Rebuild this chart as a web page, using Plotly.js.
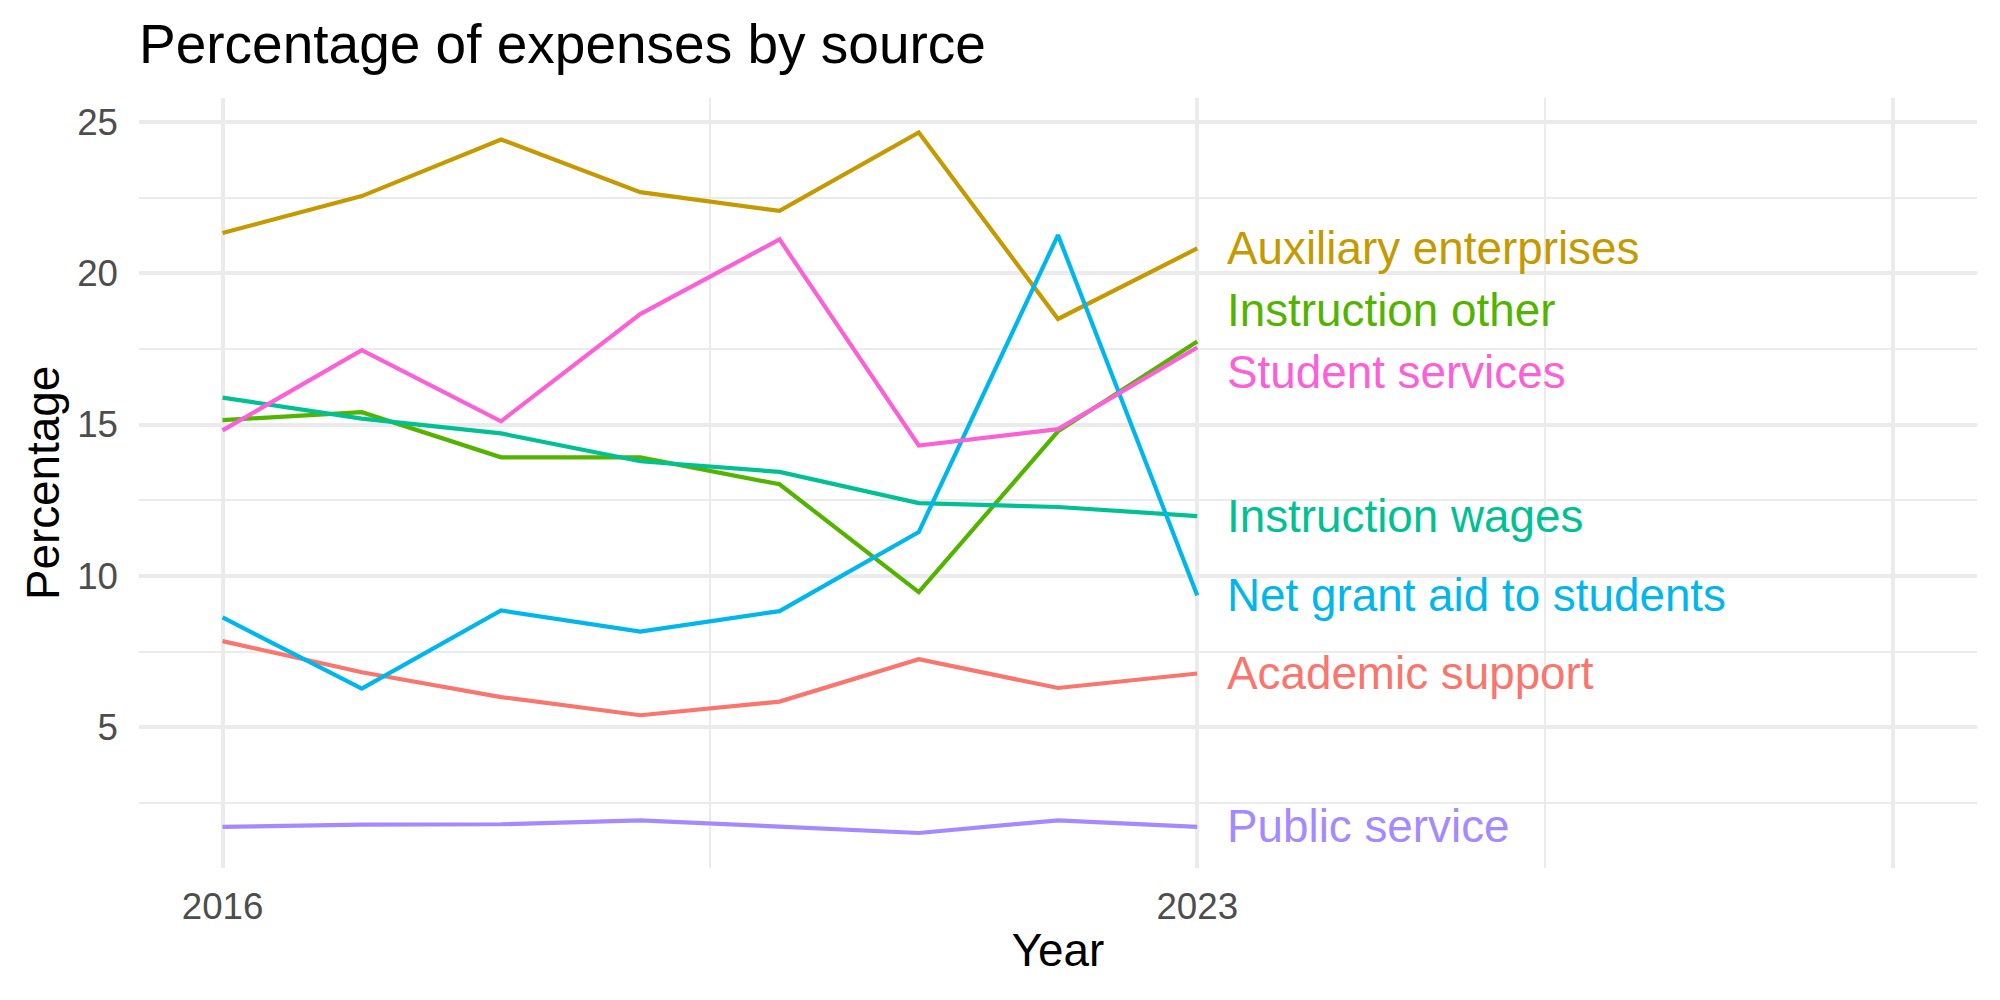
<!DOCTYPE html>
<html>
<head>
<meta charset="utf-8">
<script src="https://cdn.plot.ly/plotly-3.0.1.min.js"></script>
<style>
  html, body { margin: 0; padding: 0; background: #ffffff; }
  #chart { width: 2000px; height: 1000px; }
</style>
</head>
<body>
<div id="chart"></div>
<script>
// Share of expenses by source, 2016–2023 (percent)
const years = [2016, 2017, 2018, 2019, 2020, 2021, 2022, 2023];

const academicSupport      = [7.85, 6.82, 6.00, 5.40, 5.85, 7.25, 6.30, 6.78];
const auxiliaryEnterprises = [21.33, 22.55, 24.42, 22.68, 22.06, 24.65, 18.49, 20.82];
const instructionOther     = [15.15, 15.41, 13.92, 13.92, 13.03, 9.47, 14.78, 17.75];
const instructionWages     = [15.89, 15.20, 14.71, 13.79, 13.44, 12.41, 12.28, 11.98];
const netGrantAid          = [8.63, 6.28, 8.86, 8.16, 8.84, 11.45, 21.26, 9.36];
const publicService        = [1.71, 1.79, 1.80, 1.93, 1.72, 1.51, 1.93, 1.71];
const studentServices      = [14.81, 17.46, 15.11, 18.65, 21.12, 14.31, 14.85, 17.55];

const seriesNames = [
  "Academic support",
  "Auxiliary enterprises",
  "Instruction other",
  "Instruction wages",
  "Net grant aid to students",
  "Public service",
  "Student services"
];
const seriesValues = [
  academicSupport, auxiliaryEnterprises, instructionOther, instructionWages,
  netGrantAid, publicService, studentServices
];
const seriesColors = ["#F8766D", "#C49A00", "#53B400", "#00C094", "#00B6EB", "#A58AFF", "#FB61D7"];

// vertical nudges (percentage points) that keep the end labels from overlapping
const labelNudge = {
  "Instruction other": 1.03,
  "Student services": -0.82
};

const xTickVals = [2016, 2023, 2028];
const xTickText = ["2016", "2023", ""];

const FONT = "Liberation Sans, Arial, Helvetica, sans-serif";

const traces = seriesNames.map((name, i) => ({
  type: "scatter",
  mode: "lines",
  name: name,
  x: years,
  y: seriesValues[i],
  line: { color: seriesColors[i], width: 4.2 },
  hoverinfo: "x+y+name"
}));

const lastYear = years[years.length - 1];
const annotations = seriesNames.map((name, i) => {
  const vals = seriesValues[i];
  return {
    x: lastYear + 0.2,
    y: vals[vals.length - 1] + (labelNudge[name] || 0),
    xref: "x",
    yref: "y",
    text: name,
    showarrow: false,
    xanchor: "left",
    yanchor: "middle",
    font: { family: FONT, size: 45.8, color: seriesColors[i] }
  };
});

const layout = {
  width: 2000,
  height: 1000,
  paper_bgcolor: "#ffffff",
  plot_bgcolor: "#ffffff",
  showlegend: false,
  margin: { l: 139, r: 23, t: 98, b: 132, pad: 0 },
  font: { family: FONT, color: "#000000" },
  title: {
    text: "Percentage of expenses by source",
    font: { family: FONT, size: 55, color: "#000000" },
    x: 139 / 2000,
    xref: "container",
    xanchor: "left",
    y: 1 - 44 / 1000,
    yref: "container",
    yanchor: "middle"
  },
  xaxis: {
    range: [2015.4, 2028.6],
    tickmode: "array",
    tickvals: xTickVals,
    ticktext: xTickText,
    showgrid: true,
    gridcolor: "#EBEBEB",
    gridwidth: 4,
    zeroline: false,
    showline: false,
    ticks: "",
    ticklabelstandoff: 13,
    tickfont: { family: FONT, size: 36.7, color: "#4D4D4D" },
    minor: {
      tickmode: "array",
      tickvals: [2019.5, 2025.5],
      showgrid: true,
      gridcolor: "#EBEBEB",
      gridwidth: 2,
      ticks: ""
    },
    title: {
      text: "Year",
      font: { family: FONT, size: 45.8, color: "#000000" },
      standoff: 8
    },
    automargin: false,
    fixedrange: true
  },
  yaxis: {
    range: [0.354, 25.79],
    tickmode: "linear",
    tick0: 0,
    dtick: 5,
    showgrid: true,
    gridcolor: "#EBEBEB",
    gridwidth: 4,
    zeroline: false,
    showline: false,
    ticks: "",
    ticklabelstandoff: 20,
    tickfont: { family: FONT, size: 36.7, color: "#4D4D4D" },
    minor: {
      tickmode: "linear",
      tick0: 2.5,
      dtick: 5,
      showgrid: true,
      gridcolor: "#EBEBEB",
      gridwidth: 2,
      ticks: ""
    },
    title: {
      text: "Percentage",
      font: { family: FONT, size: 45.8, color: "#000000" },
      standoff: 3
    },
    automargin: false,
    fixedrange: true
  },
  annotations: annotations
};

Plotly.newPlot("chart", traces, layout, { staticPlot: true, displayModeBar: false });
</script>
</body>
</html>
